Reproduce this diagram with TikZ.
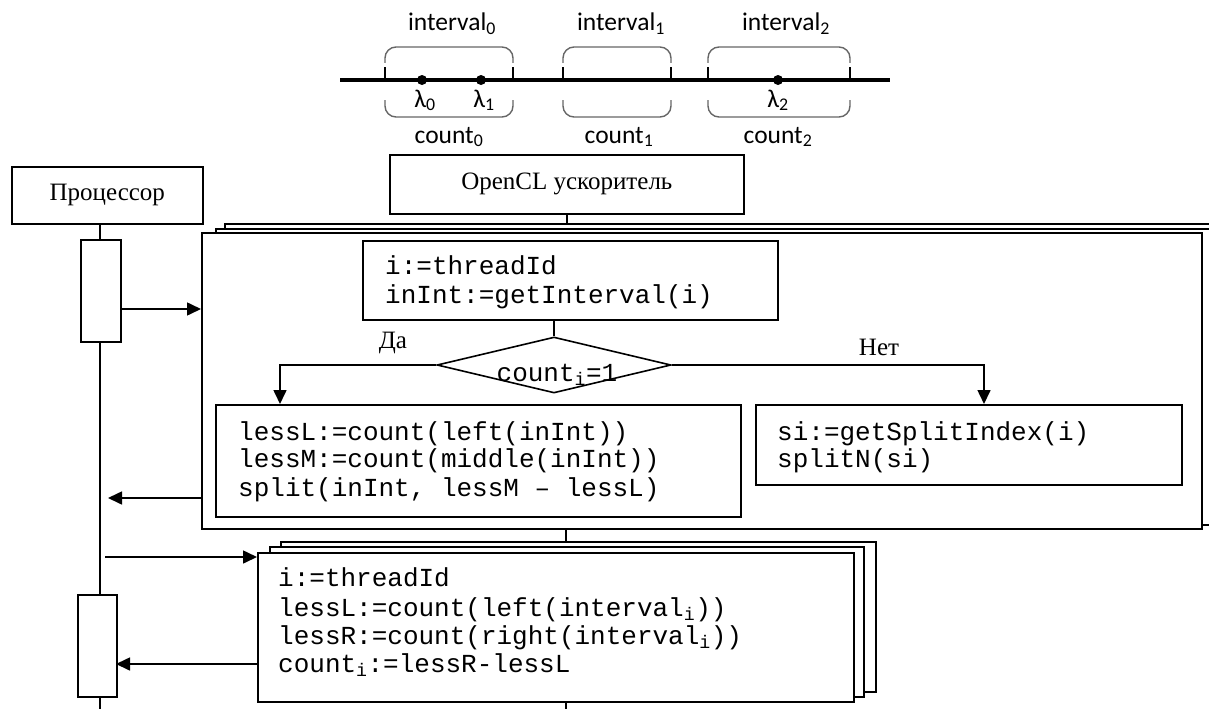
\documentclass[tikz,border=0pt]{standalone}
\usepackage{fontspec}
\setmainfont{Liberation Serif}
\setmonofont{Liberation Mono}
\newfontfamily\labfont{Carlito}
\usetikzlibrary{shapes.geometric,arrows.meta}

\begin{document}
\begin{tikzpicture}[x=1pt,y=-1pt,
  box/.style={draw,line width=1.6pt,fill=white,inner sep=0pt,anchor=north west},
  code/.style={anchor=base west,inner sep=0pt,font=\fontsize{26}{30}\ttfamily},
  serif/.style={inner sep=0pt,font=\fontsize{25}{30}\selectfont},
  lab/.style={anchor=base,inner sep=0pt,font=\fontsize{25.5}{30}\labfont},
  conn/.style={line width=1.6pt},
  arr/.style={conn,-{Triangle[length=14pt,width=13pt]}},
  brace/.style={line width=1.4pt,black!60,rounded corners=11pt},
  axis/.style={line width=3.5pt},
  tick/.style={line width=2.6pt},
]
\useasboundingbox (0,0) rectangle (1209,709);

% ---- number line with intervals ----
\draw[axis] (340,80) -- (890,80);
\foreach \t in {385,513,563,671,708,850}
  \draw[tick] (\t,67) -- (\t,80);
\foreach \a/\b in {385/513,563/671,708/850}{
  \draw[brace] (\a,63) -- (\a,47) -- (\b,47) -- (\b,63);
  \draw[brace] (\a,100) -- (\a,117) -- (\b,117) -- (\b,100);
}
\fill (422,80) circle (5pt);
\fill (481,80) circle (5pt);
\fill (778,80) circle (5pt);
\node[lab] (l0) at (425,107) {λ\textsubscript{0}};
\node[lab] (l1) at (484,107) {λ\textsubscript{1}};
\node[lab] (l2) at (778,107) {λ\textsubscript{2}};
\node[lab] (iv0) at (452,31) {interval\textsubscript{0}};
\node[lab] (iv1) at (621,31) {interval\textsubscript{1}};
\node[lab] (iv2) at (786,31) {interval\textsubscript{2}};
\node[lab] (c0) at (449,143) {count\textsubscript{0}};
\node[lab] (c1) at (619,143) {count\textsubscript{1}};
\node[lab] (c2) at (778,143) {count\textsubscript{2}};

% ---- lifeline heads ----
\node[box,serif,minimum width=191,minimum height=57] (proc) at (11,166) {Процессор};
\node[box,serif,minimum width=354,minimum height=59] (ocl) at (389,154) {OpenCL ускоритель};

% ---- processor activations ----
\node[box,minimum width=40,minimum height=102] (act1) at (80,239) {};
\node[box,minimum width=39,minimum height=102] (act2) at (77,594) {};

% ---- stacked kernel frame ----
\node[box,minimum width=1000,minimum height=297] (big3) at (224,223) {};
\node[box,minimum width=997,minimum height=296] (big2) at (215,228) {};
\node[box,minimum width=1000,minimum height=296] (big1) at (201,232) {};

\node[box,minimum width=415,minimum height=79] (b1) at (362,240) {};
\node[code] (t11) at (385,274) {i:=threadId};
\node[code] (t12) at (385,303) {inInt:=getInterval(i)};

\node[draw,line width=1.6pt,fill=white,diamond,inner sep=0pt,
      minimum width=234,minimum height=56] (dia) at (554,365) {};
\node[anchor=base,inner sep=0pt,font=\fontsize{26}{30}\ttfamily] (dt) at (557,381) {count\textsubscript{i}=1};
\node[serif] (yes) at (393,343) {Да};
\node[serif] (no) at (879,347) {Нет};

\node[box,minimum width=525,minimum height=112] (lbox) at (215,404) {};
\node[code] (t21) at (238,440) {lessL:=count(left(inInt))};
\node[code] (t22) at (238,467) {lessM:=count(middle(inInt))};
\node[code] (t23) at (238,496) {split(inInt, lessM – lessL)};

\node[box,minimum width=426,minimum height=80] (rbox) at (755,404) {};
\node[code] (t31) at (777,440) {si:=getSplitIndex(i)};
\node[code] (t32) at (777,467) {splitN(si)};

% ---- stacked count frame ----
\node[box,minimum width=595,minimum height=150] (small3) at (280,541) {};
\node[box,minimum width=594,minimum height=150] (small2) at (269,546) {};
\node[box,minimum width=596,minimum height=149] (small1) at (257,552) {};
\node[code] (t41) at (278,586) {i:=threadId};
\node[code] (t42) at (278,616) {lessL:=count(left(interval\textsubscript{i}))};
\node[code] (t43) at (278,644) {lessR:=count(right(interval\textsubscript{i}))};
\node[code] (t44) at (278,672) {count\textsubscript{i}:=lessR-lessL};

% ---- connector end points ----
\coordinate (pend) at (100,709);
\coordinate (oend) at (566,709);
\coordinate (a1) at (120,309);
\coordinate (r1) at (108,498);
\coordinate (s0) at (105,557);
\coordinate (s1) at (116,664);
\coordinate (ya) at (280,404);
\coordinate (na) at (984,404);

% processor lifeline
\draw[conn] (pend |- proc.south) -- (pend |- act1.north);
\draw[conn] (pend |- act1.south) -- (pend |- act2.north);
\draw[conn] (pend |- act2.south) -- (pend);

% accelerator lifeline
\draw[conn] (ocl.south) -- (ocl.south |- big3.north);
\draw[conn] (oend |- big1.south) -- (oend |- small3.north);
\draw[conn] (oend |- small1.south) -- (oend);

% messages
\draw[arr] (a1) -- (a1 -| big1.west);
\draw[arr] (r1 -| big1.west) -- (r1);
\draw[arr] (s0) -- (s0 -| small1.west);
\draw[arr] (s1 -| small1.west) -- (s1);

% kernel flow
\draw[conn] (dia.north |- b1.south) -- (dia.north);
\draw[arr] (dia.west) -| (ya);
\draw[arr] (dia.east) -| (na);
\end{tikzpicture}
\end{document}
